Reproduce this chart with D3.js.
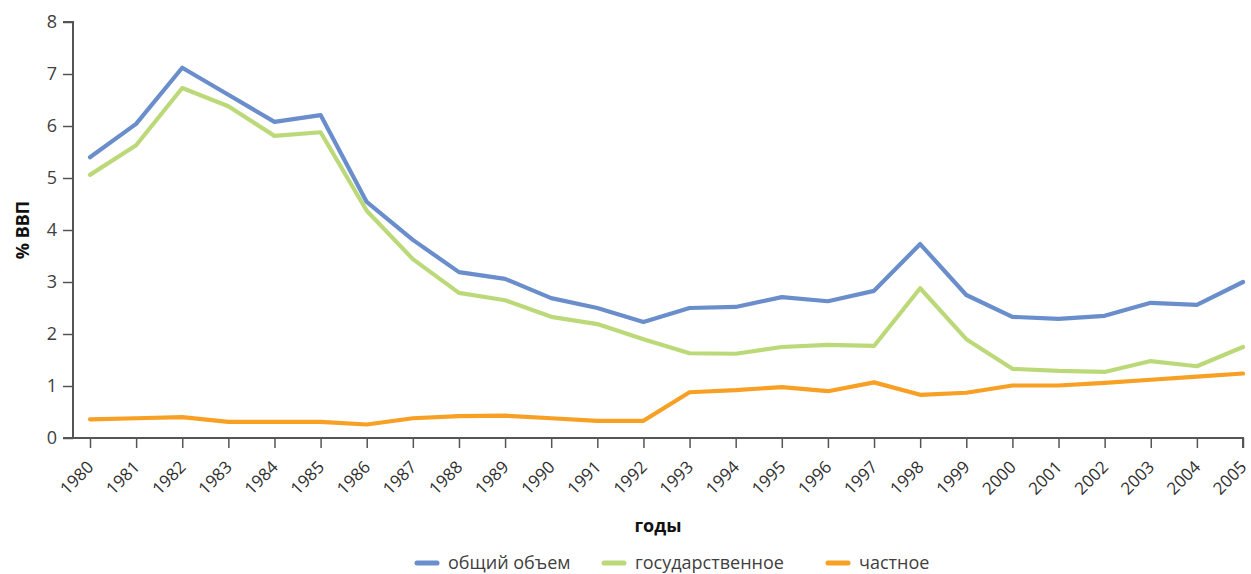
<!DOCTYPE html>
<html><head><meta charset="utf-8">
<script src="https://cdn.jsdelivr.net/npm/d3@7"></script>
<style>
html,body{margin:0;padding:0;background:#fff;}
svg{display:block;font-family:"Open Sans","Noto Sans",sans-serif;}
</style></head>
<body><svg id="c" width="1251" height="574"></svg>
<script>
const years = [1980,1981,1982,1983,1984,1985,1986,1987,1988,1989,1990,1991,1992,1993,1994,1995,1996,1997,1998,1999,2000,2001,2002,2003,2004,2005];
const total = [5.40,6.04,7.12,6.60,6.08,6.21,4.54,3.81,3.19,3.06,2.69,2.50,2.23,2.50,2.52,2.71,2.63,2.83,3.73,2.75,2.33,2.29,2.35,2.60,2.56,3.00];
const publicExp = [5.06,5.63,6.73,6.38,5.81,5.88,4.37,3.44,2.79,2.65,2.33,2.19,1.90,1.63,1.62,1.75,1.79,1.77,2.88,1.90,1.33,1.29,1.27,1.48,1.38,1.75];
const privateExp = [0.36,0.38,0.40,0.31,0.31,0.31,0.26,0.38,0.42,0.43,0.38,0.33,0.33,0.88,0.92,0.98,0.90,1.07,0.83,0.87,1.01,1.01,1.06,1.12,1.18,1.24];
const seriesNames = ["общий объем","государственное","частное"];
const colors = ["#6a8ecb","#bcd979","#f7a024"];
const yTicks = [0,1,2,3,4,5,6,7,8];

const svg = d3.select("#c");
const mLeft = 73, mRight = 1243, mTop = 22, mBottom = 438;
const x = d3.scalePoint().domain(years).range([mLeft+17, mRight]);
const y = d3.scaleLinear().domain([0,8]).range([mBottom, mTop]);

// y axis
const ya = svg.append("g").attr("transform",`translate(${mLeft},0)`)
  .call(d3.axisLeft(y).tickValues(yTicks).tickSize(10).tickPadding(6).tickFormat(d3.format("d")));
ya.attr("font-family",null).attr("font-size",null);
ya.select(".domain").attr("stroke","#555").attr("stroke-width",2).attr("d",`M-10,${mTop}H0V${mBottom}`);
ya.selectAll(".tick line").attr("stroke","#555").attr("stroke-width",1.5);
ya.selectAll(".tick text").style("font-size","18px").attr("fill","#404040");

// x axis
const xa = svg.append("g").attr("transform",`translate(0,${mBottom})`)
  .call(d3.axisBottom(x).tickSize(10).tickPadding(4));
xa.attr("font-family",null).attr("font-size",null);
xa.select(".domain").attr("stroke","#555").attr("stroke-width",2).attr("d",`M${mLeft-10},0H${mRight}V10`);
xa.selectAll(".tick line").attr("stroke","#555").attr("stroke-width",1.5);
xa.selectAll(".tick text").style("font-size","17px").attr("fill","#303030")
  .attr("text-anchor","end").attr("dy","0.35em")
  .attr("transform","translate(0,26) rotate(-45)").attr("x",0).attr("y",0);

// lines
const data = [total, publicExp, privateExp];
const line = d3.line().x((d,i)=>x(years[i])).y(d=>y(d));
[2,1,0].forEach(k=>{
  svg.append("path").datum(data[k]).attr("d",line).attr("fill","none")
    .attr("stroke",colors[k]).attr("stroke-width",4.2).attr("stroke-linejoin","round").attr("stroke-linecap","round");
});

// axis titles
svg.append("text").attr("transform",`translate(29,${(mTop+mBottom)/2}) rotate(-90)`)
  .attr("text-anchor","middle").attr("font-weight","bold").style("font-size","18px").attr("fill","#111").text("% ВВП");
svg.append("text").attr("x",(mLeft+mRight)/2).attr("y",532).attr("text-anchor","middle")
  .attr("font-weight","bold").style("font-size","18px").attr("fill","#111").text("годы");

// legend
const legX = [415,602,826];
seriesNames.forEach((n,i)=>{
  const g = svg.append("g").attr("transform",`translate(${legX[i]},563)`);
  g.append("line").attr("x1",2).attr("x2",22).attr("y1",0).attr("y2",0)
    .attr("stroke",colors[i]).attr("stroke-width",5).attr("stroke-linecap","round");
  g.append("text").attr("x",33).attr("y",0).attr("dy","0.35em").style("font-size","18px").attr("fill","#404040").text(n);
});
</script></body></html>
